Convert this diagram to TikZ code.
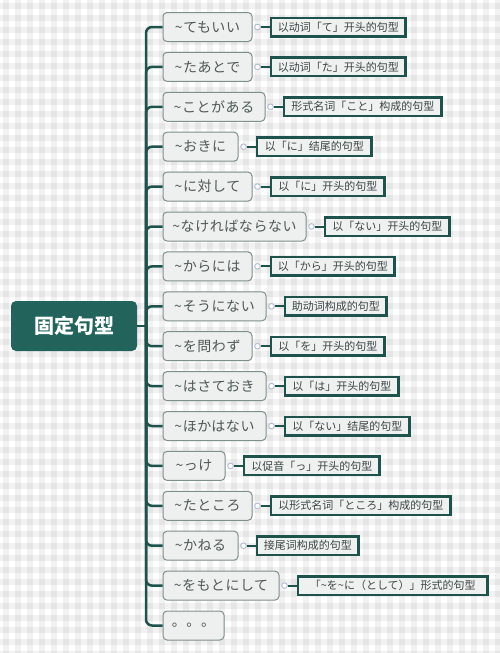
\documentclass[tikz,border=0pt]{standalone}
\usepackage{fontspec}
\usetikzlibrary{calc}
\newfontfamily\jpfont{Noto Sans CJK JP}[LetterSpace=4]
\newfontfamily\scfont{Noto Sans CJK SC}
\definecolor{conncol}{HTML}{1E524C}
\definecolor{mainfill}{HTML}{22635B}
\definecolor{childfill}{HTML}{EEEFEF}
\definecolor{childborder}{HTML}{7E908C}
\definecolor{childtext}{HTML}{4E5A57}
\definecolor{descfill}{HTML}{EFF1F0}
\definecolor{desctext}{HTML}{3A4644}
\definecolor{knob}{HTML}{B3BED3}
\tikzset{
  conn/.style={draw=conncol, line width=2.5pt, rounded corners=6pt},
  knobline/.style={draw=conncol, line width=2pt},
  mainbox/.style={fill=mainfill, rounded corners=5pt, minimum width=126pt, minimum height=50pt,
    text=white, font=\scfont\bfseries\fontsize{20}{23}\selectfont, inner sep=0pt},
  childbox/.style={draw=childborder, fill=childfill, rounded corners=4pt, line width=1pt,
    minimum height=29pt, anchor=west, inner xsep=0pt, inner ysep=0pt,
    font=\jpfont\fontsize{14}{16}\selectfont, text=childtext},
  descbox/.style={draw=conncol, fill=descfill, line width=2.5pt, minimum height=18.5pt,
    anchor=west, inner xsep=0pt, inner ysep=0pt,
    font=\scfont\fontsize{11}{13}\selectfont, text=desctext},
  knobc/.style={circle, draw=knob, fill=white, line width=0.8pt, minimum size=5.5pt, inner sep=0pt},
}
\begin{document}
\begin{tikzpicture}[x=1pt,y=-1pt]
\useasboundingbox (0,0) rectangle (500,653);
\fill[white] (0,0) rectangle (500,653);
\foreach \k in {0,...,41} {
  \fill[black, opacity=0.05] (\k*12+3,0) rectangle (\k*12+9,653);
}
\foreach \k in {0,...,54} {
  \fill[black, opacity=0.05] (0,\k*12+3) rectangle (500,\k*12+9);
}
\node[mainbox] (main) at (74,326) {固定句型};
\coordinate (j) at (146,326);
\draw[conn] (main.east) -- (j);
\foreach \i/\lab/\cw in {
  1/{\textasciitilde てもいい}/90,
  2/{\textasciitilde たあとで}/90,
  3/{\textasciitilde ことがある}/103,
  4/{\textasciitilde おきに}/76,
  5/{\textasciitilde に対して}/90,
  6/{\textasciitilde なければならない}/144,
  7/{\textasciitilde からには}/90,
  8/{\textasciitilde そうにない}/104,
  9/{\textasciitilde を問わず}/90,
  10/{\textasciitilde はさておき}/104,
  11/{\textasciitilde ほかはない}/104,
  12/{\textasciitilde っけ}/63,
  13/{\textasciitilde たところ}/90,
  14/{\textasciitilde かねる}/76,
  15/{\textasciitilde をもとにして}/117,
  16/{。。。}/62} {
  \node[childbox, minimum width=\cw pt - 1pt] (c\i) at (162.5, {27+(\i-1)*39.9}) {\lab};
  \draw[conn] (j) |- (c\i.west);
}
\foreach \i/\dtext/\dw in {
  1/{以动词「て」开头的句型}/137,
  2/{以动词「た」开头的句型}/137,
  3/{形式名词「こと」构成的句型}/160,
  4/{以「に」结尾的句型}/117,
  5/{以「に」开头的句型}/116,
  6/{以「ない」开头的句型}/127,
  7/{以「から」开头的句型}/126,
  8/{助动词构成的句型}/104,
  9/{以「を」开头的句型}/116,
  10/{以「は」开头的句型}/116,
  11/{以「ない」结尾的句型}/127,
  12/{以促音「っ」开头的句型}/138,
  13/{以形式名词「ところ」构成的句型}/182,
  14/{接尾词构成的句型}/104,
  15/{「\textasciitilde を\textasciitilde に（として）」形式的句型}/192} {
  \node[descbox, minimum width=\dw pt - 2.5pt] (d\i) at ($(c\i.east)+(17.25,0)$) {\dtext};
  \node[knobc] (k\i) at ($(c\i.east)+(5,0)$) {};
  \draw[knobline] (k\i.east) -- (d\i.west);
  \node[knobc] at (k\i) {};
}
\end{tikzpicture}
\end{document}
